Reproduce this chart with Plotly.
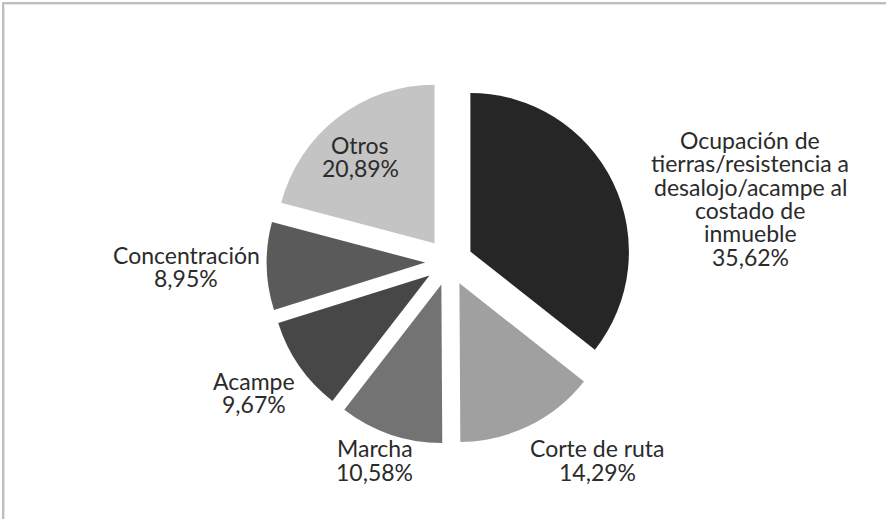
import math
import plotly.graph_objects as go

# Categories and shares (%) going clockwise from 12 o'clock
categories = [
    "Ocupación de<br>tierras/resistencia a<br>desalojo/acampe al<br>costado de<br>inmueble",
    "Corte de ruta",
    "Marcha",
    "Acampe",
    "Concentración",
    "Otros",
]
shares = [35.62, 14.29, 10.58, 9.67, 8.95, 20.89]
slice_colors = ["#262626", "#a0a0a0", "#737373", "#474747", "#5a5a5a", "#c4c4c4"]

W, H = 886, 519
PULL = 0.15

# Pie box in pixels (paper == full page because margins are zero)
cx_px, cy_px = 449.0, 262.0
box_w, box_h = 400.0, 364.6
dom_x = [(cx_px - box_w / 2) / W, (cx_px + box_w / 2) / W]
dom_y = [1 - (cy_px + box_h / 2) / H, 1 - (cy_px - box_h / 2) / H]
radius = min(box_w, box_h) / (2 + 2 * PULL)

fig = go.Figure(
    go.Pie(
        labels=categories,
        values=shares,
        sort=False,
        direction="clockwise",
        rotation=0,
        pull=[PULL] * len(shares),
        marker=dict(colors=slice_colors, line=dict(width=0)),
        textinfo="none",
        hovertemplate="%{label}<br>%{percent:.2%}<extra></extra>",
        showlegend=False,
        domain=dict(x=dom_x, y=dom_y),
    )
)

# Label nudges (px) from the outer mid-point of each pulled slice
nudges = [(137, 16), (68.5, 34.2), (-15.5, 25.3), (-45.1, 26.4), (-80.4, 0.3), (22.5, 39.1)]
LINE_PITCH = 23.3
label_font = dict(family="Lato, 'Open Sans', sans-serif", size=23, color="#2b2b2b")

total = sum(shares)
start = 0.0
annotations = []
for name, val, (dx, dy) in zip(categories, shares, nudges):
    span = val / total * 360.0
    mid = math.radians(start + span / 2)
    start += span
    r_out = radius * (1 + PULL)
    ax_px = cx_px + r_out * math.sin(mid)
    ay_px = cy_px - r_out * math.cos(mid)
    pct = f"{val / total * 100:.2f}".replace(".", ",")
    lines = name.split("<br>") + [f"{pct}%"]
    n = len(lines)
    # one annotation per line keeps the line spacing tight
    for i, line in enumerate(lines):
        offset = (i - (n - 1) / 2) * LINE_PITCH
        annotations.append(
            dict(
                x=ax_px / W,
                y=1 - ay_px / H,
                xref="paper",
                yref="paper",
                text=line,
                showarrow=False,
                xanchor="center",
                yanchor="middle",
                align="center",
                xshift=dx,
                yshift=-(dy + offset),
                font=label_font,
            )
        )

# Thin frame along the top and left edges
shapes = [
    dict(type="line", xref="paper", yref="paper", x0=2.5 / W, x1=1, y0=1 - 3 / H, y1=1 - 3 / H,
         line=dict(color="#bdbdbd", width=2)),
    dict(type="line", xref="paper", yref="paper", x0=3 / W, x1=3 / W, y0=0, y1=1 - 2.5 / H,
         line=dict(color="#bdbdbd", width=2)),
    dict(type="line", xref="paper", yref="paper", x0=4.5 / W, x1=1, y0=1 - 4.5 / H, y1=1 - 4.5 / H,
         line=dict(color="#e6e6e6", width=1)),
    dict(type="line", xref="paper", yref="paper", x0=4.5 / W, x1=4.5 / W, y0=0, y1=1 - 4.5 / H,
         line=dict(color="#e6e6e6", width=1)),
]

fig.update_layout(
    width=W,
    height=H,
    margin=dict(l=0, r=0, t=0, b=0),
    paper_bgcolor="white",
    plot_bgcolor="white",
    annotations=annotations,
    shapes=shapes,
    separators=",.",
)

fig.write_html("out.html")
